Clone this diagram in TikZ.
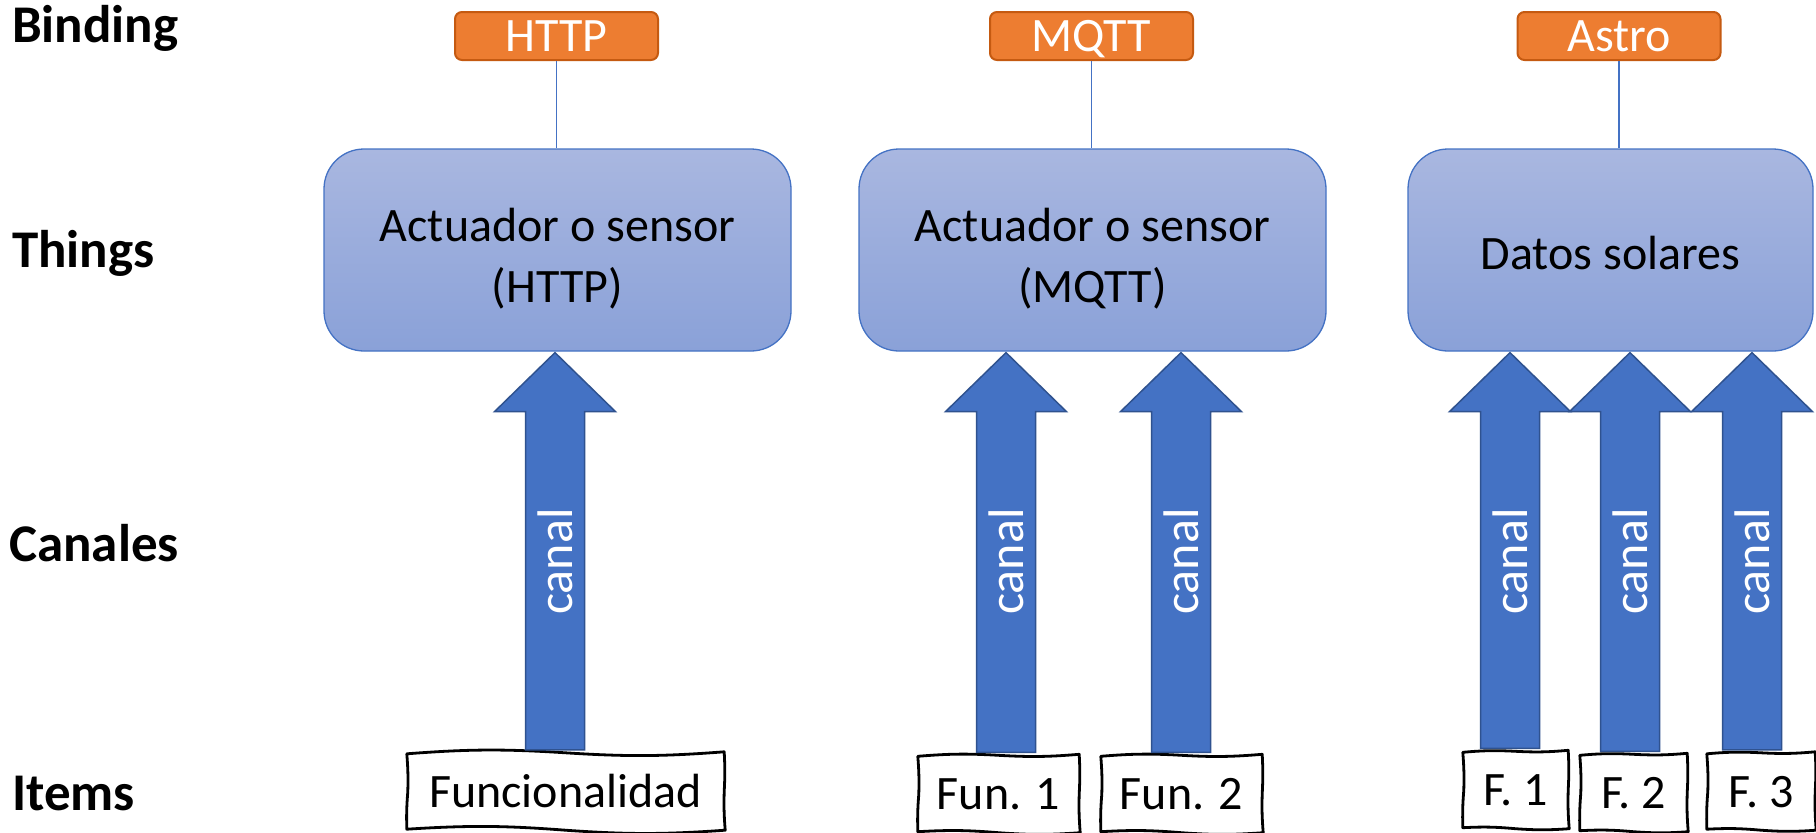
\documentclass[tikz,border=0pt]{standalone}
\usepackage{fontspec}
\setmainfont{Carlito}
\usetikzlibrary{calc}
\definecolor{accblue}{HTML}{4472C4}
\definecolor{darkblue}{HTML}{2F528F}
\definecolor{orfill}{HTML}{ED7D31}
\definecolor{oredge}{HTML}{C55A11}
\definecolor{thtop}{HTML}{A9B7E0}
\definecolor{thbot}{HTML}{8AA1D8}
\newcommand\sketchbox[1]{%
  \draw[sketchline] ($(#1.north west)+(0,1)$) to[bend left=4] ($(#1.north)+(0,0)$) to[bend right=4] ($(#1.north east)+(0,-1)$)
    to[bend left=3] ($(#1.east)+(0,0)$) to[bend right=3] ($(#1.south east)+(1,0)$)
    to[bend left=4] ($(#1.south)+(0,0)$) to[bend right=4] ($(#1.south west)+(0,-1)$)
    to[bend left=3] ($(#1.west)+(1,0)$) to[bend right=3] ($(#1.north west)+(0,1)$) -- cycle;}
\newcommand\chan[4]{%
  \draw[chanarrow] ($(#1|-#3.north)+(-29.5,-3)$) -- ($(#1|-#2.south)+(-29.5,60)$)
    -- ($(#1|-#2.south)+(-60.5,60)$) -- ($(#1|-#2.south)+(0,1)$)
    -- ($(#1|-#2.south)+(60.5,60)$) -- ($(#1|-#2.south)+(29.5,60)$)
    -- ($(#1|-#3.north)+(29.5,-3)$) -- cycle;
  \node[chanlabel] (#4) at ($(#1|-#2.south)+(0,210)$) {canal};}
\begin{document}
\begin{tikzpicture}[x=1pt,y=-1pt,
  lab/.style={font=\fontsize{53}{60}\selectfont\bfseries, inner sep=0pt, anchor=base west},
  bind/.style={draw=oredge, line width=2pt, fill=orfill, rounded corners=7pt, text=white,
    minimum width=203pt, minimum height=48pt, inner sep=0pt, text height=31pt, text depth=0pt,
    font=\fontsize{48}{58}\selectfont},
  thing/.style={draw=accblue, line width=1.3pt, top color=thtop, bottom color=thbot,
    rounded corners=40pt, minimum height=202pt, align=center,
    font=\fontsize{48}{61}\selectfont},
  link/.style={draw=accblue, line width=1.3pt},
  item/.style={minimum height=77pt, inner sep=0pt, text height=31pt, text depth=0pt,
    font=\fontsize{48}{58}\selectfont},
  sketchline/.style={line width=2.8pt, line join=round},
  chanarrow/.style={fill=accblue, draw=darkblue, line width=1.5pt, line join=miter},
  chanlabel/.style={rotate=90, text=white, inner sep=0pt, font=\fontsize{50}{60}\selectfont}]
\useasboundingbox (0,0) rectangle (1816,833);
\fill[white] (0,0) rectangle (1816,833);

% row labels
\node[lab] (lbind) at (12,42) {Binding};
\node[lab] (lthing) at (12,267) {Things};
\node[lab] (lcan) at (9,561) {Canales};
\node[lab] (litem) at (12,810) {Items};

% bindings
\node[bind] (b1) at (556.5,36) {HTTP};
\node[bind] (b2) at (1091.5,36) {MQTT};
\node[bind] (b3) at (1619,36) {Astro};

% things
\node[thing, minimum width=467pt] (t1) at (557.5,250) {\rule{0pt}{50pt}Actuador o sensor\\(HTTP)};
\node[thing, minimum width=467pt] (t2) at (1092.5,250) {\rule{0pt}{50pt}Actuador o sensor\\(MQTT)};
\node[thing, minimum width=405pt] (t3) at (1610.5,250) {\rule{0pt}{40pt}Datos solares};

\draw[link] (b1.south) -- (b1.south |- t1.north);
\draw[link] (b2.south) -- (b2.south |- t2.north);
\draw[link] (b3.south) -- (b3.south |- t3.north);

% items
\node[item, minimum width=317pt] (i1) at (565.5,791.5) {Funcionalidad};
\node[item, minimum width=161pt] (i2) at (998.5,794) {Fun. 1};
\node[item, minimum width=161pt] (i3) at (1181.5,794) {Fun. 2};
\node[item, minimum width=105pt] (i4) at (1515.5,790) {F. 1};
\node[item, minimum width=107pt] (i5) at (1633.5,793) {F. 2};
\node[item, minimum width=108pt] (i6) at (1761,791.5) {F. 3};
\sketchbox{i1}
\sketchbox{i2}
\sketchbox{i3}
\sketchbox{i4}
\sketchbox{i5}
\sketchbox{i6}

% channels
\coordinate (c1) at (555,0);
\coordinate (c2) at (1006,0);
\coordinate (c3) at (1181,0);
\coordinate (c4) at (1510,0);
\coordinate (c5) at (1630,0);
\coordinate (c6) at (1752,0);
\chan{c1}{t1}{i1}{k1}
\chan{c2}{t2}{i2}{k2}
\chan{c3}{t2}{i3}{k3}
\chan{c4}{t3}{i4}{k4}
\chan{c5}{t3}{i5}{k5}
\chan{c6}{t3}{i6}{k6}
\end{tikzpicture}
\end{document}
